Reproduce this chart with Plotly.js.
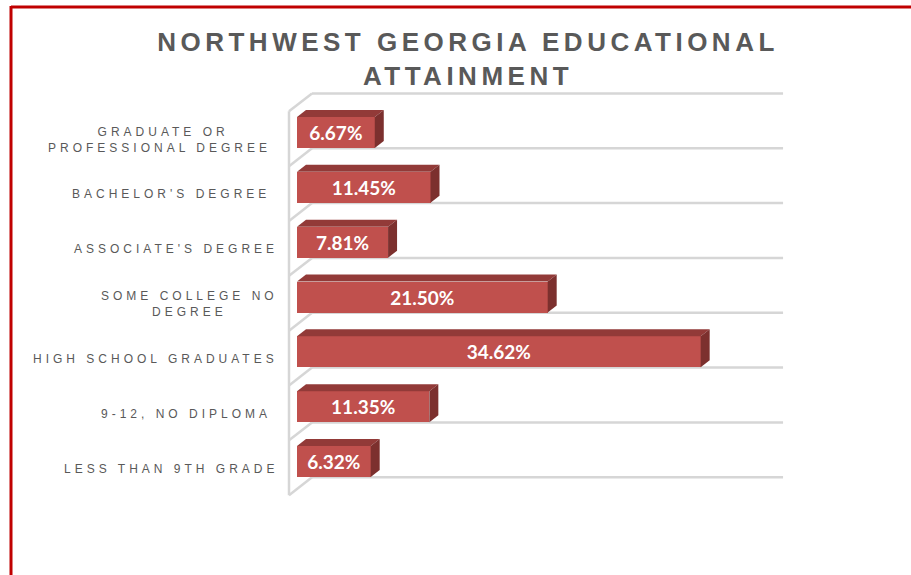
<!DOCTYPE html>
<html>
<head>
<meta charset="utf-8">
<script src="https://cdn.plot.ly/plotly-3.0.1.min.js"></script>
<style>
  html, body { margin: 0; padding: 0; background: #ffffff; }
  #chart { width: 911px; height: 575px; }
  .annotation-text { letter-spacing: 4px; }
  .gtitle { letter-spacing: 4.5px; }
</style>
</head>
<body>
<div id="chart"></div>
<script>
// ---- data (bottom to top) ----
const categories = [
  "LESS THAN 9TH GRADE",
  "9-12, NO DIPLOMA",
  "HIGH SCHOOL GRADUATES",
  "SOME COLLEGE NO DEGREE",
  "ASSOCIATE'S DEGREE",
  "BACHELOR'S DEGREE",
  "GRADUATE OR PROFESSIONAL DEGREE"
];
const values = [6.32, 11.35, 34.62, 21.50, 7.81, 11.45, 6.67];
const tickLabels = [
  "LESS THAN 9TH GRADE",
  "9-12, NO DIPLOMA\u00a0",
  "HIGH SCHOOL GRADUATES",
  "SOME COLLEGE NO<br>DEGREE",
  "ASSOCIATE'S DEGREE",
  "BACHELOR'S DEGREE\u00a0",
  "GRADUATE OR<br>PROFESSIONAL DEGREE\u00a0"
];
const titleText = "NORTHWEST GEORGIA EDUCATIONAL<br>ATTAINMENT";
const axisMax = 40.4;

// ---- geometry / style ----
const FIG_W = 911, FIG_H = 575;
const L = 250, T = 80, PW = 561, PH = 435;
const zeroPx = 297, ppx = 11.66;      // pixel of value 0, pixels per percent
const row0Px = 461.5, ppy = 54.83;    // pixel of first category centre, pixels per category
const slope = 0.78;                   // vertical rise per pixel of depth
const barHalf = 0.2825;               // half bar thickness (category units)
const barDepth = 9, frontD = -8, backD = 15;

const xRange = [(L - zeroPx) / ppx, (L + PW - zeroPx) / ppx];
const yRange = [(row0Px - (T + PH)) / ppy, (row0Px - T) / ppy];

function dep(x, y, d) { return [x + d / ppx, y + d * slope / ppy]; }
function px2paperX(px) { return (px - L) / PW; }
function px2paperY(py) { return (T + PH - py) / PH; }

const idx = categories.map((c, i) => i);
const gridCol = '#d6d6d6';
const shapes = [];

// walls / grid lines
for (let k = 0; k <= categories.length; k++) {
  const yb = k - 0.5;
  const b0 = dep(0, yb, backD), b1 = dep(axisMax, yb, backD), f0 = dep(0, yb, frontD);
  shapes.push({type: 'line', xref: 'x', yref: 'y', x0: b0[0], y0: b0[1], x1: b1[0], y1: b1[1],
               line: {color: gridCol, width: 2.5}, layer: 'below'});
  shapes.push({type: 'line', xref: 'x', yref: 'y', x0: f0[0], y0: f0[1], x1: b0[0], y1: b0[1],
               line: {color: gridCol, width: 2.5}, layer: 'below'});
}
{
  const a = dep(0, -0.5, frontD), b = dep(0, categories.length - 0.5, frontD);
  shapes.push({type: 'line', xref: 'x', yref: 'y', x0: a[0], y0: a[1], x1: b[0], y1: b[1],
               line: {color: gridCol, width: 2.5}, layer: 'below'});
}

// 3D faces of bars
values.forEach((v, i) => {
  const yt = i + barHalf, yb = i - barHalf;
  const p1 = [0, yt], p2 = [v, yt], p3 = dep(v, yt, barDepth), p4 = dep(0, yt, barDepth);
  shapes.push({type: 'path', xref: 'x', yref: 'y', layer: 'above',
    path: `M${p1[0]},${p1[1]} L${p2[0]},${p2[1]} L${p3[0]},${p3[1]} L${p4[0]},${p4[1]} Z`,
    fillcolor: '#923a38', line: {width: 0}});
  const s1 = [v, yb], s2 = [v, yt], s3 = dep(v, yt, barDepth), s4 = dep(v, yb, barDepth);
  shapes.push({type: 'path', xref: 'x', yref: 'y', layer: 'above',
    path: `M${s1[0]},${s1[1]} L${s2[0]},${s2[1]} L${s3[0]},${s3[1]} L${s4[0]},${s4[1]} Z`,
    fillcolor: '#7c302e', line: {width: 0}});
});

// red frame
const redCol = '#c00000';
shapes.push({type: 'line', xref: 'paper', yref: 'paper',
  x0: px2paperX(11), y0: px2paperY(7), x1: px2paperX(911), y1: px2paperY(7),
  line: {color: redCol, width: 3}});
shapes.push({type: 'line', xref: 'paper', yref: 'paper',
  x0: px2paperX(11), y0: px2paperY(6), x1: px2paperX(11), y1: px2paperY(576),
  line: {color: redCol, width: 3}});

// category labels
const annotations = tickLabels.map((t, i) => ({
  text: t, xref: 'paper', yref: 'y', x: px2paperX(280), y: i - 0.13,
  xanchor: 'right', yanchor: 'middle', align: 'center', showarrow: false,
  font: {family: 'Liberation Sans, Arial, sans-serif', size: 12, color: '#595959'}
}));

const trace = {
  type: 'bar', orientation: 'h',
  y: idx, x: values, width: 2 * barHalf,
  marker: {color: '#c0504d', line: {width: 0}},
  texttemplate: '%{x:.2f}%', textposition: 'inside', insidetextanchor: 'middle',
  textfont: {family: 'Lato, Open Sans, sans-serif', size: 19, color: '#ffffff', weight: 'bold'},
  constraintext: 'none', cliponaxis: false, hoverinfo: 'skip'
};

const layout = {
  width: FIG_W, height: FIG_H,
  margin: {l: L, r: FIG_W - L - PW, t: T, b: FIG_H - T - PH, pad: 0},
  paper_bgcolor: '#ffffff', plot_bgcolor: '#ffffff',
  showlegend: false,
  title: {
    text: titleText, xref: 'container', yref: 'container',
    x: 468 / FIG_W, xanchor: 'center', y: 1 - 51 / FIG_H, yanchor: 'top',
    font: {family: 'Liberation Sans, Arial, sans-serif', size: 26, color: '#595959', weight: 'bold'}
  },
  xaxis: {range: xRange, showgrid: false, zeroline: false, showticklabels: false,
          showline: false, ticks: '', fixedrange: true},
  yaxis: {range: yRange, showgrid: false, zeroline: false, showticklabels: false,
          showline: false, ticks: '', fixedrange: true},
  shapes: shapes, annotations: annotations, bargap: 0
};

Plotly.newPlot('chart', [trace], layout, {displayModeBar: false, staticPlot: true});
</script>
</body>
</html>
